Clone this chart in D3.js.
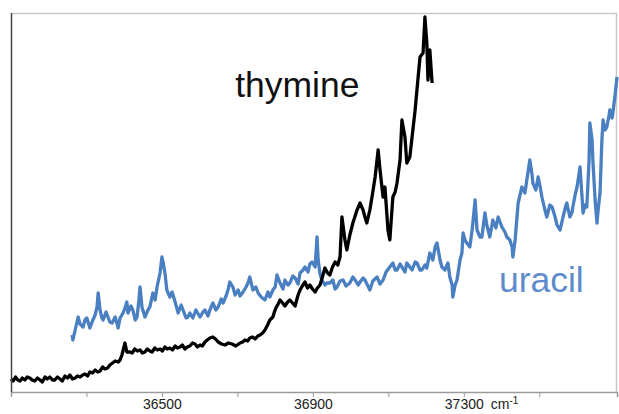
<!DOCTYPE html>
<meta charset="utf-8">
<style>
 body { margin: 0; background: #fff; }
 .tick-label { font: 14px "Liberation Sans", Arial, sans-serif; fill: #222; }
 .series-label { font: 35.5px "Liberation Sans", Arial, sans-serif; }
 .trace { fill: none; stroke-width: 3.3; stroke-linejoin: round; }
</style>
<title>thymine / uracil spectra</title>
<body>
<svg width="619" height="414"></svg>
<script src="https://d3js.org/d3.v7.min.js"></script>
<script>

 // wavenumber (cm-1) and signal (arb. units)
 var thymineWn = [36100,36106,36112,36118,36124,36130,36137,36143,36150,36156,36163,36170,36177,36183,36190,36196,36203,36210,36216,36223,36230,36236,36243,36250,36256,36263,36270,36276,36283,36290,36296,36303,36309,36316,36323,36330,36336,36343,36349,36356,36362,36369,36376,36384,36389,36394,36402,36407,36415,36421,36428,36435,36442,36448,36455,36461,36468,36474,36481,36488,36495,36501,36508,36514,36521,36528,36535,36541,36548,36554,36561,36567,36574,36581,36588,36594,36601,36607,36614,36620,36627,36635,36642,36649,36658,36667,36676,36686,36696,36707,36714,36720,36727,36733,36740,36747,36754,36760,36767,36773,36780,36786,36794,36798,36802,36808,36813,36820,36826,36833,36839,36846,36853,36860,36866,36872,36879,36886,36892,36899,36906,36912,36919,36926,36932,36939,36945,36952,36959,36966,36972,36977,36985,36990,36998,37006,37012,37017,37025,37033,37038,37043,37051,37058,37065,37073,37078,37086,37091,37099,37104,37112,37118,37123,37131,37136,37144,37149,37157,37165,37171,37179,37184,37192,37197,37202,37205,37210,37216];
 var thymineVal = [13,11,15,12,11,14,12,15,14,12,11,14,12,10,15,13,15,12,12,15,13,11,16,14,17,13,14,16,15,17,18,16,20,19,22,20,21,25,23,24,27,29,31,30,32,37,49,40,40,39,43,41,42,39,40,43,41,40,44,42,43,41,45,43,44,42,46,44,45,47,43,45,46,49,48,45,47,46,50,52,54,55,53,50,48,47,49,48,46,49,50,52,51,54,55,53,56,57,59,62,67,72,75,80,84,88,92,89,86,90,92,89,86,96,102,106,110,104,107,103,100,104,107,116,124,119,117,125,130,127,135,175,152,142,157,169,176,182,189,182,175,169,182,198,215,242,222,195,205,162,152,195,200,209,232,272,255,229,235,262,282,315,335,339,375,349,312,342,309];

 var uracilWn = [36262,36264,36270,36278,36283,36291,36296,36301,36309,36317,36323,36328,36331,36336,36341,36344,36352,36357,36362,36368,36376,36384,36389,36397,36402,36407,36410,36418,36423,36429,36434,36439,36442,36447,36455,36463,36468,36476,36482,36487,36495,36500,36503,36508,36513,36521,36527,36535,36543,36551,36556,36564,36569,36574,36582,36590,36601,36609,36614,36622,36627,36635,36643,36649,36657,36662,36670,36675,36680,36688,36694,36702,36707,36715,36723,36728,36733,36741,36749,36755,36763,36773,36781,36786,36794,36800,36805,36813,36821,36826,36834,36839,36847,36853,36861,36866,36874,36879,36887,36892,36898,36906,36911,36914,36919,36924,36932,36937,36945,36953,36959,36964,36972,36980,36988,36998,37006,37012,37020,37025,37033,37038,37046,37051,37059,37070,37078,37086,37094,37104,37112,37118,37123,37131,37136,37144,37149,37157,37163,37171,37176,37184,37189,37197,37202,37210,37218,37224,37229,37237,37242,37250,37258,37263,37269,37271,37277,37282,37290,37295,37298,37303,37308,37316,37322,37324,37330,37335,37343,37348,37356,37361,37369,37377,37385,37391,37396,37401,37409,37414,37422,37428,37430,37436,37444,37449,37454,37462,37467,37475,37481,37483,37491,37497,37502,37507,37515,37520,37528,37534,37542,37547,37555,37560,37563,37571,37573,37581,37587,37589,37595,37600,37605,37608,37613,37616,37621,37626,37632,37634,37640,37642,37648,37653,37656,37661,37666,37669,37674,37679,37685,37687,37693,37695,37701,37706];
 var uracilVal = [57,52,62,75,68,65,72,74,64,72,77,85,99,82,74,72,80,75,70,69,75,64,74,79,84,90,79,86,82,72,75,92,105,85,75,82,85,99,92,105,119,135,130,119,102,95,100,90,79,87,82,74,75,79,74,82,75,80,82,76,82,89,82,85,93,89,96,102,110,105,97,102,96,100,105,109,115,102,105,99,95,92,100,95,102,105,117,109,103,112,107,109,116,114,108,119,122,125,120,128,130,125,155,132,118,112,107,109,109,112,103,105,111,112,106,109,115,112,107,110,114,112,106,102,111,115,108,112,120,125,129,122,122,128,125,120,129,125,122,130,129,122,122,127,124,139,132,145,149,132,125,122,129,115,107,95,107,112,132,139,159,152,149,145,162,169,192,162,155,155,179,167,155,172,164,175,170,165,160,155,152,145,135,152,189,197,205,199,212,232,217,209,202,215,206,195,182,175,187,185,175,167,162,170,175,187,189,175,180,185,197,205,217,225,197,179,187,185,232,269,252,232,192,169,182,199,252,272,262,265,277,282,274,279,297,315];

 var tickValues = [36100, 36300, 36500, 36700, 36900, 37100, 37300, 37500];
 var tickLabels = ["", "", "36500", "", "36900", "", "37300", ""];

 var svg = d3.select("svg"),
     margin = {top: 13, right: 2, bottom: 22, left: 11},
     width = svg.attr("width") - margin.left - margin.right,
     height = svg.attr("height") - margin.top - margin.bottom;

 var x = d3.scaleLinear()
     .domain([36100, 37706])
     .range([0, width]);

 var y = d3.scaleLinear()
     .domain([0, 379])
     .range([height, 0]);

 var g = svg.append("g")
     .attr("transform", "translate(" + margin.left + "," + margin.top + ")");

 // light frame on top and right
 g.append("line")
  .attr("x1", 0).attr("x2", width).attr("y1", 0.5).attr("y2", 0.5)
  .style("stroke", "#c8c8c8").style("stroke-width", 1.5);
 g.append("line")
  .attr("x1", width - 0.5).attr("x2", width - 0.5).attr("y1", 0).attr("y2", height)
  .style("stroke", "#c8c8c8").style("stroke-width", 1.5);

 var line = d3.line()
     .x(function(d) { return x(d[0]); })
     .y(function(d) { return y(d[1]); });

 var thymine = thymineWn.map(function(w, i) { return [w, thymineVal[i]]; });
 var uracil = uracilWn.map(function(w, i) { return [w, uracilVal[i]]; });

 g.append("path")
  .datum(uracil)
  .attr("class", "trace")
  .style("stroke", "#4a7fc1")
  .attr("d", line);

 g.append("path")
  .datum(thymine)
  .attr("class", "trace")
  .style("stroke", "#000")
  .attr("d", line);

 // x axis
 var xAxis = g.append("g")
     .attr("transform", "translate(0," + height + ")")
     .call(d3.axisBottom(x).tickValues(tickValues).tickSize(5).tickFormat(function(d, i) { return tickLabels[i]; }));
 xAxis.select(".domain").style("stroke", "#9a9a9a").style("stroke-width", 1.5);
 xAxis.selectAll(".tick line").style("stroke", "#9a9a9a");
 xAxis.selectAll(".tick text")
     .attr("class", "tick-label")
     .attr("y", 7)
     .attr("dy", "0.71em");

 var unit = xAxis.append("text")
     .attr("class", "tick-label")
     .attr("x", x(37300) + 27)
     .attr("y", 7)
     .attr("dy", "0.71em")
     .attr("text-anchor", "start")
     .text("cm");
 unit.append("tspan")
     .attr("dy", -5)
     .style("font-size", "10px")
     .text("-1");

 // left axis
 g.append("line")
  .attr("x1", 0.5).attr("x2", 0.5).attr("y1", 0).attr("y2", height)
  .style("stroke", "#444").style("stroke-width", 1.5);

 g.append("text")
  .attr("class", "series-label")
  .attr("x", x(36694))
  .attr("y", y(295))
  .style("fill", "#111")
  .text("thymine");

 g.append("text")
  .attr("class", "series-label")
  .attr("x", x(37393))
  .attr("y", y(100))
  .style("fill", "#5d8bcb")
  .text("uracil");

</script>
</body>
